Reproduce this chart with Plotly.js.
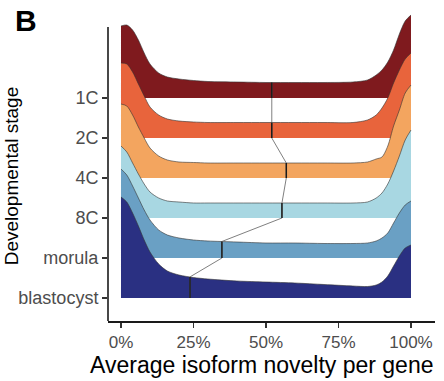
<!DOCTYPE html>
<html>
<head>
<meta charset="utf-8">
<script src="https://cdn.plot.ly/plotly-3.0.1.min.js"></script>
<style>
html,body{margin:0;padding:0;background:#fff;}
#chart{width:444px;height:381px;}
</style>
</head>
<body>
<div id="chart"></div>
<script>
// Developmental stages (bottom to top)
const stages = ['blastocyst', 'morula', '8C', '4C', '2C', '1C'];
// Evaluation grid for densities (fraction of novel isoforms)
const xGrid = [0, 0.02, 0.04, 0.06, 0.08, 0.10, 0.13, 0.16, 0.20, 0.25, 0.30, 0.40, 0.50, 0.60, 0.70, 0.80, 0.85, 0.88, 0.90, 0.92, 0.94, 0.96, 0.98, 1.0];
// Density estimates per stage (arbitrary density units)
const densBlastocyst = [10.1, 9.6, 8.5, 7.2, 5.8, 4.6, 3.4, 2.7, 2.3, 2.05, 1.9, 1.7, 1.6, 1.5, 1.35, 1.2, 1.15, 1.3, 1.6, 2.2, 3.2, 4.2, 5.0, 5.3];
const densMorula     = [8.9, 8.3, 7.2, 6.0, 4.8, 3.8, 2.8, 2.3, 2.0, 1.8, 1.7, 1.6, 1.5, 1.5, 1.45, 1.45, 1.5, 1.7, 2.0, 2.5, 3.5, 4.5, 5.3, 5.7];
const dens8C         = [7.2, 6.6, 5.5, 4.4, 3.4, 2.6, 2.0, 1.7, 1.6, 1.5, 1.5, 1.5, 1.5, 1.5, 1.5, 1.5, 1.6, 2.0, 2.5, 3.4, 4.7, 6.2, 7.8, 8.8];
const dens4C         = [7.4, 7.2, 6.3, 5.1, 4.0, 3.0, 2.2, 1.8, 1.6, 1.55, 1.5, 1.5, 1.5, 1.5, 1.5, 1.5, 1.6, 1.9, 2.1, 3.2, 5.2, 6.8, 8.5, 9.3];
const dens2C         = [7.5, 7.4, 6.6, 5.4, 4.2, 3.1, 2.3, 1.9, 1.7, 1.6, 1.55, 1.55, 1.55, 1.55, 1.55, 1.55, 1.8, 2.3, 3.0, 4.0, 5.5, 6.8, 7.9, 8.5];
const dens1C         = [7.2, 7.3, 6.8, 5.8, 4.5, 3.4, 2.5, 2.1, 1.9, 1.75, 1.65, 1.6, 1.55, 1.55, 1.55, 1.6, 1.8, 2.3, 2.8, 3.6, 4.8, 6.4, 7.7, 8.3];
// Mean novelty per stage
const means = [0.238, 0.348, 0.555, 0.57, 0.52, 0.52];
const colors = ['#2a3082', '#6aa0c4', '#a8d7e2', '#f3a55f', '#e8643c', '#7f1a1e'];

const densities = [densBlastocyst, densMorula, dens8C, dens4C, dens2C, dens1C];
const SCALE = 0.25; // ridge height scale (category units per density unit)

function interp(xs, ys, x) {
  for (let i = 0; i < xs.length - 1; i++) {
    if (x >= xs[i] && x <= xs[i + 1]) {
      const t = (x - xs[i]) / (xs[i + 1] - xs[i]);
      return ys[i] + t * (ys[i + 1] - ys[i]);
    }
  }
  return ys[ys.length - 1];
}

const traces = [];
// draw top ridge first so lower ridges overlap it
for (let k = stages.length - 1; k >= 0; k--) {
  const base = k;
  traces.push({
    x: [xGrid[0], xGrid[xGrid.length - 1]],
    y: [base, base],
    mode: 'lines',
    line: {width: 0, color: 'rgba(0,0,0,0)'},
    hoverinfo: 'skip',
    showlegend: false
  });
  traces.push({
    x: xGrid,
    y: densities[k].map(d => base + d * SCALE),
    mode: 'lines',
    fill: 'tonexty',
    fillcolor: colors[k],
    line: {color: 'rgba(50,50,50,0.75)', width: 0.8, shape: 'spline', smoothing: 0.8},
    hoverinfo: 'skip',
    showlegend: false
  });
}
// connecting mean path
const pathX = [], pathY = [];
for (let k = 0; k < stages.length; k++) {
  const h = interp(xGrid, densities[k], means[k]) * SCALE;
  pathX.push(means[k], means[k]);
  pathY.push(k, k + h);
}
traces.push({
  x: pathX, y: pathY, mode: 'lines',
  line: {color: '#808080', width: 1},
  hoverinfo: 'skip', showlegend: false
});
// dark mean markers inside each ridge
for (let k = 0; k < stages.length; k++) {
  const h = interp(xGrid, densities[k], means[k]) * SCALE;
  traces.push({
    x: [means[k], means[k]], y: [k, k + h], mode: 'lines',
    line: {color: '#1a1a1a', width: 1.5},
    hoverinfo: 'skip', showlegend: false
  });
}

const yMin = -0.575, yAxisTop = 6.775, yMax = 7.2;
const font = 'Liberation Sans, Arial, Helvetica, sans-serif';
const layout = {
  width: 444, height: 381,
  margin: {l: 108, r: 9, t: 10, b: 60},
  paper_bgcolor: '#fff', plot_bgcolor: '#fff',
  font: {family: font},
  xaxis: {
    range: [-0.0448, 1.0828],
    tickvals: [0, 0.25, 0.5, 0.75, 1],
    ticktext: ['0%', '25%', '50%', '75%', '100%'],
    ticks: 'outside', ticklen: 5, tickwidth: 1.2, tickcolor: '#333',
    showline: true, linecolor: '#1a1a1a', linewidth: 1.6,
    showgrid: false, zeroline: false,
    tickfont: {size: 17, color: '#4d4d4d', family: font},
    fixedrange: true
  },
  yaxis: {
    range: [yMin, yMax],
    tickvals: [0, 1, 2, 3, 4, 5],
    ticktext: stages,
    ticks: 'outside', ticklen: 5, tickwidth: 1.2, tickcolor: '#333',
    showline: false,
    showgrid: false, zeroline: false,
    tickfont: {size: 18, color: '#4d4d4d', family: font},
    fixedrange: true
  },
  shapes: [
    {type: 'line', xref: 'paper', yref: 'y', x0: 0, x1: 0, y0: yMin, y1: yAxisTop,
     line: {color: '#1a1a1a', width: 1.6}}
  ],
  annotations: [
    {text: '<b>B</b>', xref: 'paper', yref: 'paper', x: -0.251, y: 0.966,
     xanchor: 'center', yanchor: 'middle', showarrow: false,
     font: {size: 30, color: '#000', family: font}},
    {text: 'Developmental stage', xref: 'paper', yref: 'paper', x: -0.296, y: 0.466,
     xanchor: 'center', yanchor: 'middle', textangle: -90, showarrow: false,
     font: {size: 19, color: '#000', family: font}},
    {text: 'Average isoform novelty per gene', xref: 'paper', yref: 'paper', x: 0.47, y: -0.143,
     xanchor: 'center', yanchor: 'middle', showarrow: false,
     font: {size: 23, color: '#000', family: font}}
  ]
};
Plotly.newPlot('chart', traces, layout, {displayModeBar: false, staticPlot: true});
</script>
</body>
</html>
